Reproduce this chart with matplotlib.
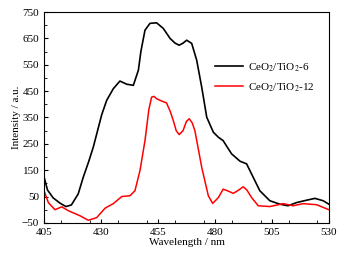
import matplotlib
matplotlib.use('Agg')
import matplotlib.pyplot as plt
from matplotlib.ticker import MultipleLocator

plt.rcParams['font.family'] = ['Liberation Serif', 'DejaVu Serif']
plt.rcParams['mathtext.fontset'] = 'stix'

# CeO2/TiO2-6 (black)
wl_6 = [405, 406.5, 409, 412, 414.6, 417, 420, 422.2, 424.5, 426.6, 428.5, 430.3, 432.5, 435.4,
        438.3, 441.3, 444.2, 446.4, 447.5, 449.3, 451.5, 454.4, 457.3, 460.3, 462.5, 464.3,
        466, 467.6, 469.8, 472, 474.2, 476.4, 479.3, 481.5, 483.6, 487.3, 491, 493.9,
        496.8, 499.7, 504.1, 508.5, 512.1, 515.8, 520.2, 523.9, 527.5, 530]
int_6 = [125, 75, 45, 25, 12, 18, 60, 123, 180, 237, 300, 360, 415, 459,
         488, 476, 472, 529, 600, 681, 707, 709, 688, 650, 632, 624,
         632, 643, 631, 567, 465, 351, 294, 275, 262, 212, 184, 174,
         123, 72, 34, 21, 15, 27, 36, 43, 34, 21]

# CeO2/TiO2-12 (red)
wl_12 = [405, 406.9, 409.8, 412.8, 415.7, 420.8, 424.4, 428.1, 431.8, 435.4, 439.1, 442.7,
         444.9, 447.1, 449.3, 451, 452.2, 453.2, 454.4, 455.9, 457.3, 458.8, 459.5, 460.3,
         461.7, 463, 464.3, 466, 467.5, 468.7, 470, 471.2, 474.2, 477.1, 479, 481.5, 483.6,
         486, 488, 490, 492.4, 494, 496.1, 499, 504.1, 510, 514.3, 518.7, 524.6, 530]
int_12 = [72, 27, 0, 11, -4, -23, -40, -30, 6, 23, 50, 53,
          72, 148, 262, 380, 427, 430, 421, 415, 410, 405, 390, 375,
          339, 300, 285, 300, 335, 345, 330, 300, 161, 53, 24, 46, 78,
          70, 62, 72, 87, 75, 46, 15, 12, 23, 15, 23, 19, 0]

xticks = [405, 430, 455, 480, 505, 530]
yticks = [-50, 50, 150, 250, 350, 450, 550, 650, 750]

fig = plt.figure(figsize=(3.44, 2.61), dpi=100)
ax = fig.add_axes([0.128, 0.146, 0.828, 0.808])

ax.plot(wl_6, int_6, color='black', lw=1.2, label=r'CeO$_2$/TiO$_2$-6')
ax.plot(wl_12, int_12, color='red', lw=1.1, label=r'CeO$_2$/TiO$_2$-12')

ax.set_xlim(405, 530)
ax.set_ylim(-50, 750)
ax.set_xticks(xticks)
ax.set_yticks(yticks)
ax.xaxis.set_minor_locator(MultipleLocator(12.5))
ax.yaxis.set_minor_locator(MultipleLocator(50))
ax.tick_params(which='both', direction='in', top=False, right=False, labelsize=8)
ax.tick_params(which='major', length=3)
ax.tick_params(which='minor', length=2)
ax.set_xlabel('Wavelength / nm', fontsize=8, labelpad=1)
ax.set_ylabel('Intensity / a.u.', fontsize=8, labelpad=1)

ax.legend(loc='upper right', bbox_to_anchor=(0.985, 0.815), frameon=False, fontsize=8,
          handlelength=2.6, handletextpad=0.4, labelspacing=0.7)

fig.savefig('out.png', dpi=100)
